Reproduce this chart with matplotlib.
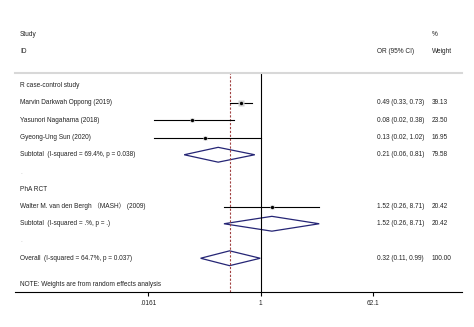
import numpy as np
import matplotlib.pyplot as plt
from matplotlib.patches import Polygon
import matplotlib.transforms as mtransforms

plt.rcParams['font.family'] = ['Liberation Sans', 'Noto Sans CJK SC', 'DejaVu Sans']

# 데이터
labels = ['R case-control study',
          'Marvin Darkwah Oppong (2019)',
          'Yasunori Nagahama (2018)',
          'Gyeong-Ung Sun (2020)',
          'Subtotal  (I-squared = 69.4%, p = 0.038)',
          '.',
          'PhA RCT',
          'Walter M. van den Bergh \uff08MASH\uff09 (2009)',
          'Subtotal  (I-squared = .%, p = .)',
          '.',
          'Overall  (I-squared = 64.7%, p = 0.037)']
kinds = ['head', 'study', 'study', 'study', 'sub', 'dot', 'head', 'study', 'sub', 'dot', 'sub']
est = [None, 0.49, 0.08, 0.13, 0.21, None, None, 1.52, 1.52, None, 0.32]
lo = [None, 0.33, 0.02, 0.02, 0.06, None, None, 0.26, 0.26, None, 0.11]
hi = [None, 0.73, 0.38, 1.02, 0.81, None, None, 8.71, 8.71, None, 0.99]
ci_text = ['', '0.49 (0.33, 0.73)', '0.08 (0.02, 0.38)', '0.13 (0.02, 1.02)',
           '0.21 (0.06, 0.81)', '', '', '1.52 (0.26, 8.71)', '1.52 (0.26, 8.71)',
           '', '0.32 (0.11, 0.99)']
weights = ['', '39.13', '23.50', '16.95', '79.58', '', '', '20.42', '20.42', '', '100.00']
w_num = [0, 39.13, 23.50, 16.95, 79.58, 0, 0, 20.42, 20.42, 0, 100.0]
overall = 0.32
xticks = [0.0161, 1, 62.1]
xticklabels = ['.0161', '1', '62.1']

W, H = 474, 327
fig = plt.figure(figsize=(W / 100, H / 100), dpi=100)

# 축 위치 (픽셀 기준)
ax_l, ax_r, ax_t, ax_b = 15, 462, 73, 292
ax = fig.add_axes([ax_l / W, 1 - ax_b / H, (ax_r - ax_l) / W, (ax_b - ax_t) / H])
ax.set_xscale('log')
c, ppd = 260.5, 62.47
ax.set_xlim(10 ** ((ax_l - c) / ppd), 10 ** ((ax_r - c) / ppd))
y0, dy = 34, 17.25
ax.set_ylim((ax_b - y0) / dy, (ax_t - y0) / dy)

for s in ['left', 'right']:
    ax.spines[s].set_visible(False)
ax.spines['top'].set_color('#d8d8d8')
ax.spines['top'].set_linewidth(1.5)
ax.spines['bottom'].set_linewidth(0.8)
ax.set_yticks([])
ax.set_xticks(xticks)
ax.set_xticklabels(xticklabels)
ax.xaxis.set_minor_locator(plt.NullLocator())
fs = 4.7
tc = '#222222'
ax.tick_params(axis='x', length=3, width=0.8, labelsize=fs, pad=2.5, labelcolor=tc)

ax.axvline(1, color='black', lw=0.8)
ax.axvline(overall, color='#a04040', lw=0.8, ls=(0, (2, 1.5)))

navy = '#252575'
rows = np.arange(len(labels)) + 3
for i, r in enumerate(rows):
    if kinds[i] == 'study':
        ax.plot([lo[i], hi[i]], [r, r], color='black', lw=0.8)
        ax.plot(est[i], r, marker='s', ms=np.sqrt(w_num[i]) * 0.6, color='#d0d0d0', mec='none')
        ax.plot(est[i], r, marker='o', ms=2.4, color='black', mew=0)
    elif kinds[i] == 'sub':
        h = 0.43
        pts = [(lo[i], r), (est[i], r - h), (hi[i], r), (est[i], r + h)]
        ax.add_patch(Polygon(pts, closed=True, fill=False, ec=navy, lw=0.9))

# 텍스트
tr = mtransforms.blended_transform_factory(fig.transFigure, ax.transData)
ax.text(20 / W, 0, 'Study', transform=tr, fontsize=fs, color=tc, va='center', clip_on=False)
ax.text(20 / W, 1, 'ID', transform=tr, fontsize=fs, color=tc, va='center', clip_on=False)
ax.text(377 / W, 1, 'OR (95% CI)', transform=tr, fontsize=fs, color=tc, va='center', clip_on=False)
ax.text(432 / W, 0, '%', transform=tr, fontsize=fs, color=tc, va='center', clip_on=False)
ax.text(432 / W, 1, 'Weight', transform=tr, fontsize=fs, color=tc, va='center', clip_on=False)
for i, r in enumerate(rows):
    col = '#bbbbbb' if kinds[i] == 'dot' else tc
    ax.text(20 / W, r, labels[i], transform=tr, fontsize=fs, color=col, va='center')
    if ci_text[i]:
        ax.text(377 / W, r, ci_text[i], transform=tr, fontsize=fs, color=tc, va='center')
        ax.text(432 / W, r, weights[i], transform=tr, fontsize=fs, color=tc, va='center')
ax.text(20 / W, 14.5, 'NOTE: Weights are from random effects analysis', transform=tr,
        fontsize=fs, color=tc, va='center')

fig.savefig('out.png', dpi=100)
